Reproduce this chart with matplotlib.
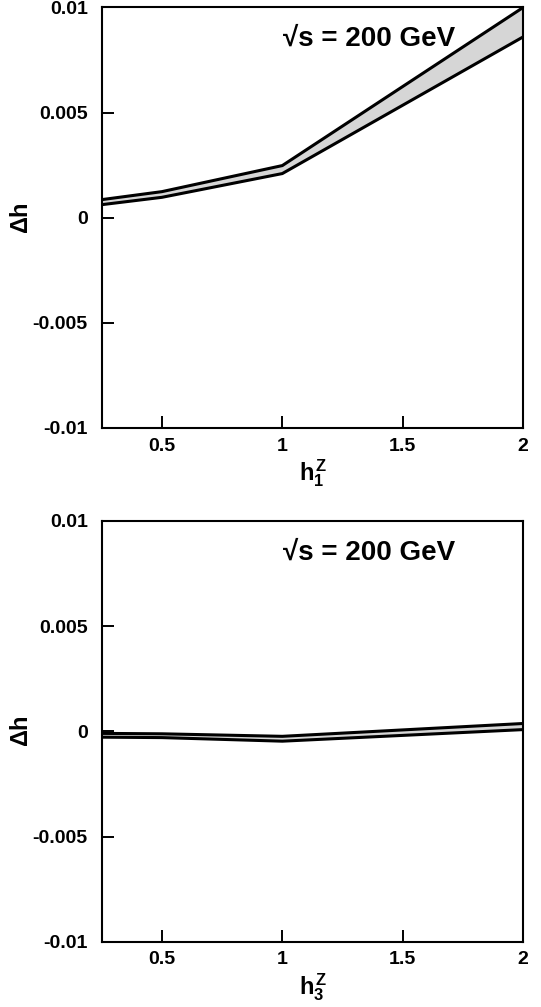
import matplotlib
matplotlib.use('Agg')
import matplotlib.pyplot as plt

plt.rcParams['font.family'] = ['Liberation Sans', 'DejaVu Sans']
plt.rcParams['font.weight'] = 'bold'
plt.rcParams['axes.unicode_minus'] = False
plt.rcParams['mathtext.fontset'] = 'custom'
plt.rcParams['mathtext.rm'] = 'Liberation Sans'
plt.rcParams['mathtext.it'] = 'Liberation Sans:bold'
plt.rcParams['mathtext.bf'] = 'Liberation Sans:bold'

# data
h_vals = [0.25, 0.5, 1.0, 2.0]
h1_upper = [0.00086, 0.00124, 0.00248, 0.0100]
h1_lower = [0.00062, 0.00097, 0.00210, 0.0086]
h3_upper = [-0.00010, -0.00012, -0.00024, 0.00037]
h3_lower = [-0.00028, -0.00030, -0.00047, 0.00008]

yticks = [-0.01, -0.005, 0, 0.005, 0.01]
ytick_labels = ['-0.01', '-0.005', '0', '0.005', '0.01']
xticks = [0.5, 1, 1.5, 2]
xtick_labels = ['0.5', '1', '1.5', '2']
xlabels = [r'$h^Z_1$', r'$h^Z_3$']
energy_text = '√s = 200 GeV'

fig = plt.figure(figsize=(5.41, 10.07), dpi=100)
ax1 = fig.add_axes([0.188, 0.575, 0.779, 0.4176])
ax2 = fig.add_axes([0.188, 0.0648, 0.779, 0.418])

panels = [(ax1, h1_upper, h1_lower, xlabels[0]),
          (ax2, h3_upper, h3_lower, xlabels[1])]

for ax, up, lo, xl in panels:
    ax.fill_between(h_vals, lo, up, color='#d6d6d6', lw=0)
    ax.plot(h_vals, up, color='black', lw=2.2, solid_joinstyle='miter')
    ax.plot(h_vals, lo, color='black', lw=2.2, solid_joinstyle='miter')
    ax.set_xlim(0.25, 2)
    ax.set_ylim(-0.01, 0.01)
    ax.set_xticks(xticks)
    ax.set_xticklabels(xtick_labels)
    ax.set_yticks(yticks)
    ax.set_yticklabels(ytick_labels)
    ax.tick_params(direction='in', length=8.5, width=1.4, labelsize=14,
                   top=False, right=False)
    ax.tick_params(axis='x', pad=7)
    ax.tick_params(axis='y', pad=10)
    for s in ax.spines.values():
        s.set_linewidth(1.5)
    ax.set_xlabel(xl, fontsize=17, labelpad=2)
    ax.set_ylabel(r'$\Delta\mathbf{h}$', fontsize=17)
    ax.yaxis.set_label_coords(-0.163, 0.5)
    ax.text(0.43, 0.925, energy_text, transform=ax.transAxes,
            fontsize=20, fontweight='bold', va='center', ha='left')

fig.savefig('out.png', dpi=100)
